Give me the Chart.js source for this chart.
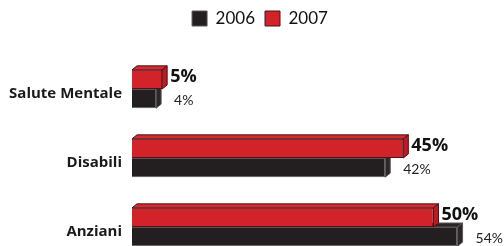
<!DOCTYPE html>
<html>
<head>
<meta charset="utf-8">
<script src="https://cdn.jsdelivr.net/npm/chart.js@4/dist/chart.umd.min.js"></script>
<style>
  html, body { margin: 0; padding: 0; background: #ffffff; overflow: hidden; }
  canvas { display: block; }
</style>
</head>
<body>
<canvas id="c" width="504" height="246" style="width:504px;height:246px"></canvas>
<script>
const categories = ['Salute Mentale', 'Disabili', 'Anziani'];
const seriesNames = ['2006', '2007'];
const values2006 = [4, 42, 54];
const values2007 = [5, 45, 50];

const RED = '#d2232a', RED_SIDE = '#b81d24', RED_TOP = '#d62a31', RED_EDGE = '#4a1418';
const BLK = '#231f20', BLK_SIDE = '#2c2728', BLK_TOP = '#2a2526', BLK_EDGE = '#5a5556';
const DX = 5, DY = 4;

const bevelPlugin = {
  id: 'bevel',
  afterInit(chart) {
    const lg = chart.legend;
    if (lg) {
      const origFit = lg.fit;
      lg.fit = function () { origFit.call(this); this.height = 89; };
    }
  },
  beforeDraw(chart) {
    const lg = chart.legend;
    if (lg) { lg.left += 8; lg.right += 8; }
  },
  afterDatasetDraw(chart, args) {
    const ctx = chart.ctx;
    const ds = chart.data.datasets[args.index];
    const isRed = ds.label === '2007';
    ctx.save();
    ctx.lineWidth = 1;
    ctx.strokeStyle = isRed ? RED_EDGE : BLK_EDGE;
    args.meta.data.forEach(el => {
      const p = el.getProps(['x', 'y', 'base', 'height'], true);
      const top = p.y - p.height / 2, bottom = p.y + p.height / 2;
      const left = p.base, right = p.x;
      ctx.beginPath();
      ctx.moveTo(left, top);
      ctx.lineTo(left + DX, top - DY);
      ctx.lineTo(right + DX, top - DY);
      ctx.lineTo(right, top);
      ctx.closePath();
      ctx.fillStyle = isRed ? RED_TOP : BLK_TOP;
      ctx.fill();
      ctx.stroke();
      ctx.beginPath();
      ctx.moveTo(right, top);
      ctx.lineTo(right + DX, top - DY);
      ctx.lineTo(right + DX, bottom - DY);
      ctx.lineTo(right, bottom);
      ctx.closePath();
      ctx.fillStyle = isRed ? RED_SIDE : BLK_SIDE;
      ctx.fill();
      ctx.stroke();
    });
    ctx.restore();
  },
  afterDatasetsDraw(chart) {
    const ctx = chart.ctx;
    ctx.save();
    ctx.textAlign = 'left';
    ctx.textBaseline = 'alphabetic';
    chart.data.datasets.forEach((ds, i) => {
      const meta = chart.getDatasetMeta(i);
      const isRed = ds.label === '2007';
      meta.data.forEach((el, j) => {
        const p = el.getProps(['x', 'y', 'height'], true);
        const txt = ds.data[j] + '%';
        if (isRed) {
          ctx.font = 'bold 18px "Open Sans"';
          ctx.fillStyle = '#111111';
          ctx.fillText(txt, p.x + 8, p.y + 3);
        } else {
          ctx.font = '14px Lato';
          ctx.fillStyle = '#222222';
          ctx.fillText(txt, p.x + 18, p.y + 6);
        }
      });
    });
    ctx.restore();
  }
};

new Chart(document.getElementById('c'), {
  type: 'bar',
  data: {
    labels: categories,
    datasets: [
      { label: seriesNames[1], data: values2007, backgroundColor: RED, borderColor: RED_EDGE, borderWidth: 1, clip: false },
      { label: seriesNames[0], data: values2006, backgroundColor: BLK, borderColor: BLK_EDGE, borderWidth: 1, clip: false }
    ]
  },
  options: {
    indexAxis: 'y',
    responsive: false,
    maintainAspectRatio: false,
    animation: false,
    devicePixelRatio: 1,
    layout: { padding: { top: 0, left: 0, right: 0, bottom: 18 } },
    datasets: { bar: { categoryPercentage: 0.555, barPercentage: 1.0 } },
    scales: {
      x: { display: false, min: 0, max: 61.7 },
      y: {
        offset: false,
        grid: { display: false, drawTicks: false, offset: false },
        border: { display: false },
        afterFit(scale) { scale.width = 132; },
        ticks: {
          autoSkip: false,
          padding: 10,
          labelOffset: 5,
          color: '#1a1a1a',
          font: { family: 'Open Sans', weight: 'bold', size: 15 }
        }
      }
    },
    plugins: {
      tooltip: { enabled: false },
      legend: {
        position: 'top',
        align: 'center',
        labels: {
          boxWidth: 15,
          boxHeight: 15,
          padding: 10,
          color: '#111111',
          font: { family: 'Lato', size: 17 },
          sort: (a, b) => b.datasetIndex - a.datasetIndex
        }
      }
    }
  },
  plugins: [bevelPlugin]
});
</script>
</body>
</html>
